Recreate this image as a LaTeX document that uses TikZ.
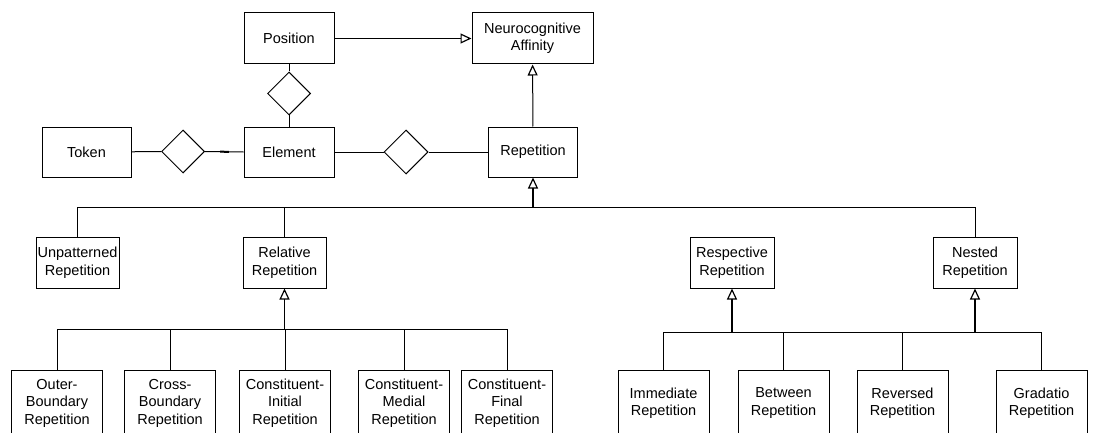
\documentclass[tikz,border=0pt]{standalone}
\usepackage{fontspec}
\setmainfont{Liberation Sans}
\usetikzlibrary{arrows.meta,shapes.geometric}
\begin{document}
\begin{tikzpicture}[x=1pt,y=-1pt,
  line width=1pt,
  every node/.style={font=\fontsize{14.5}{17.5}\selectfont},
  box/.style={draw,rectangle,align=center,inner sep=0pt},
  rel/.style={draw,diamond,minimum width=43pt,minimum height=43pt,inner sep=0pt},
  tip/.style={-{Triangle[open,length=11pt,width=10pt,line width=1.2pt]}},
  gen/.style={tip,line width=1.3pt},
  lbl/.style={align=center,inner sep=0pt}]
\clip (0,0) rectangle (1115,433);
\fill[white] (0,0) rectangle (1115,433);
% top part
\node[box,minimum width=90pt,minimum height=51pt] (pos) at (289,38.5) {Position};
\node[box,minimum width=121pt,minimum height=51pt] (na) at (532.5,38.5) {Neurocognitive\\Affinity};
\node[box,minimum width=90pt,minimum height=50pt] (elem) at (289,152) {Element};
\node[box,minimum width=89pt,minimum height=50pt] (token) at (86.5,152) {Token};
\node[box,minimum width=89pt,minimum height=50pt] (rep) at (533,152) {Repetition};
\node[rel] (d1) at (289,93.5) {};
\node[rel] (d2) at (183,151.5) {};
\node[rel,minimum width=44pt,minimum height=44pt] (d3) at (406,152) {};
\draw[tip] (pos) -- (na);
\draw[tip] (rep) -- (na);
\draw (pos) -- (d1) -- (elem);
\draw (token) -- (d2);
\draw (d2.east) -- (elem.west);
\path (d2.east) -- (elem.west) coordinate[pos=0.39] (m1) coordinate[pos=0.62] (m2);
\draw[line width=2pt] (m1) -- (m2);
\draw (elem) -- (d3) -- (rep);
% middle row
\node[box,minimum width=83pt,minimum height=51pt] (unp) at (77.5,262.5) {Unpatterned\\Repetition};
\node[box,minimum width=83pt,minimum height=51pt] (relr) at (284.5,262.5) {Relative\\Repetition};
\node[box,minimum width=84pt,minimum height=51pt] (resp) at (732,262.5) {Respective\\Repetition};
\node[box,minimum width=84pt,minimum height=51pt] (nest) at (975,262.5) {Nested\\Repetition};
\coordinate (tb) at (533,207);
\draw[gen] (tb) -- (rep.south);
\draw (unp.north) |- (tb);
\draw (relr.north) |- (tb);
\draw (nest.north) |- (tb);
% bottom row
\foreach \n/\x/\t in {obr/57/{Outer-\\Boundary\\Repetition},
  cbr/170/{Cross-\\Boundary\\Repetition},
  cir/285/{Constituent-\\Initial\\Repetition},
  cmr/404/{Constituent-\\Medial\\Repetition},
  cfr/507/{Constituent-\\Final\\Repetition},
  imm/663.5/{Immediate\\Repetition},
  btw/783.5/{Between\\Repetition},
  rev/902.5/{Reversed\\Repetition},
  grad/1041.5/{Gradatio\\Repetition}}{
  \node[box,minimum width=91pt,minimum height=66pt] (\n) at (\x,403) {};
  \node[lbl] (\n-t) at (\x,403) {\t};
}
\coordinate (b1) at (284.5,329);
\draw[gen] (b1) -- (relr.south);
\draw (obr.north) |- (b1);
\draw (cbr.north) |- (b1);
\draw (cir.north) |- (b1);
\draw (cmr.north) |- (b1);
\draw (cfr.north) |- (b1);
\coordinate (b2) at (732,332);
\coordinate (b3) at (975,332);
\draw[gen] (b2) -- (resp.south);
\draw[gen] (b3) -- (nest.south);
\draw (imm.north) |- (b2);
\draw (btw.north) |- (b2);
\draw (rev.north) |- (b3);
\draw (grad.north) |- (b3);
\draw (b2) -- (b3);
\end{tikzpicture}
\end{document}
